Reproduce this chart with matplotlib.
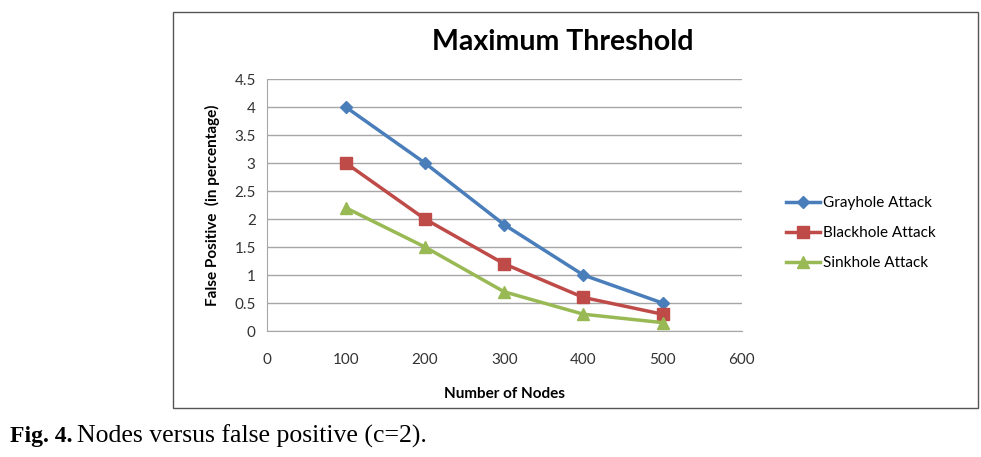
import matplotlib.pyplot as plt
from matplotlib.patches import Rectangle

nodes = [100, 200, 300, 400, 500]
grayhole = [4.0, 3.0, 1.9, 1.0, 0.5]
blackhole = [3.0, 2.0, 1.2, 0.6, 0.3]
sinkhole = [2.2, 1.5, 0.7, 0.3, 0.15]

series = [
    ("Grayhole Attack", grayhole, "#4A7EBB", "D", 6),
    ("Blackhole Attack", blackhole, "#BE4B48", "s", 8),
    ("Sinkhole Attack", sinkhole, "#98B954", "^", 9),
]

plt.rcParams['font.family'] = ['Lato', 'DejaVu Sans']

fig = plt.figure(figsize=(9.81, 4.57), dpi=100)

# outer chart frame
fig.patches.append(Rectangle((0.176, 0.107), 0.821, 0.867, transform=fig.transFigure,
                             fill=False, edgecolor='#555555', linewidth=1.0))

ax = fig.add_axes([0.272, 0.2757, 0.484, 0.551])
for name, vals, col, mk, ms in series:
    ax.plot(nodes, vals, color=col, marker=mk, markersize=ms, linewidth=2.5, label=name)

ax.set_xlim(0, 600)
ax.set_ylim(0, 4.5)
ax.set_xticks(range(0, 601, 100))
ax.set_yticks([0, 0.5, 1, 1.5, 2, 2.5, 3, 3.5, 4, 4.5])
ax.set_yticklabels(['0', '0.5', '1', '1.5', '2', '2.5', '3', '3.5', '4', '4.5'])
ax.grid(axis='y', color='#a6a6a6', linewidth=1)
ax.set_axisbelow(True)
for s in ['top', 'right']:
    ax.spines[s].set_visible(False)
for s in ['left', 'bottom']:
    ax.spines[s].set_color('#a6a6a6')
ax.tick_params(length=0, labelsize=11, colors='#333333', pad=8)
ax.tick_params(axis='x', pad=16)

ax.set_xlabel("Number of Nodes", fontsize=11, fontweight='bold', labelpad=14)
ax.set_ylabel("False Positive  (in percentage)", fontsize=11, fontweight='bold', labelpad=10)

fig.text(0.574, 0.908, "Maximum Threshold", ha='center', va='center',
         fontsize=20.5, fontweight='bold')

ax.legend(loc='center left', bbox_to_anchor=(1.065, 0.388), frameon=False,
          fontsize=11, handlelength=2.2, handletextpad=0.2, labelspacing=1.05)

fig.text(0.01, 0.045, "Fig. 4.", fontsize=17, fontweight='bold',
         family='Liberation Serif', va='center')
fig.text(0.0785, 0.045, "Nodes versus false positive (c=2).", fontsize=18.5,
         family='Liberation Serif', va='center')

fig.savefig("out.png", dpi=100)
